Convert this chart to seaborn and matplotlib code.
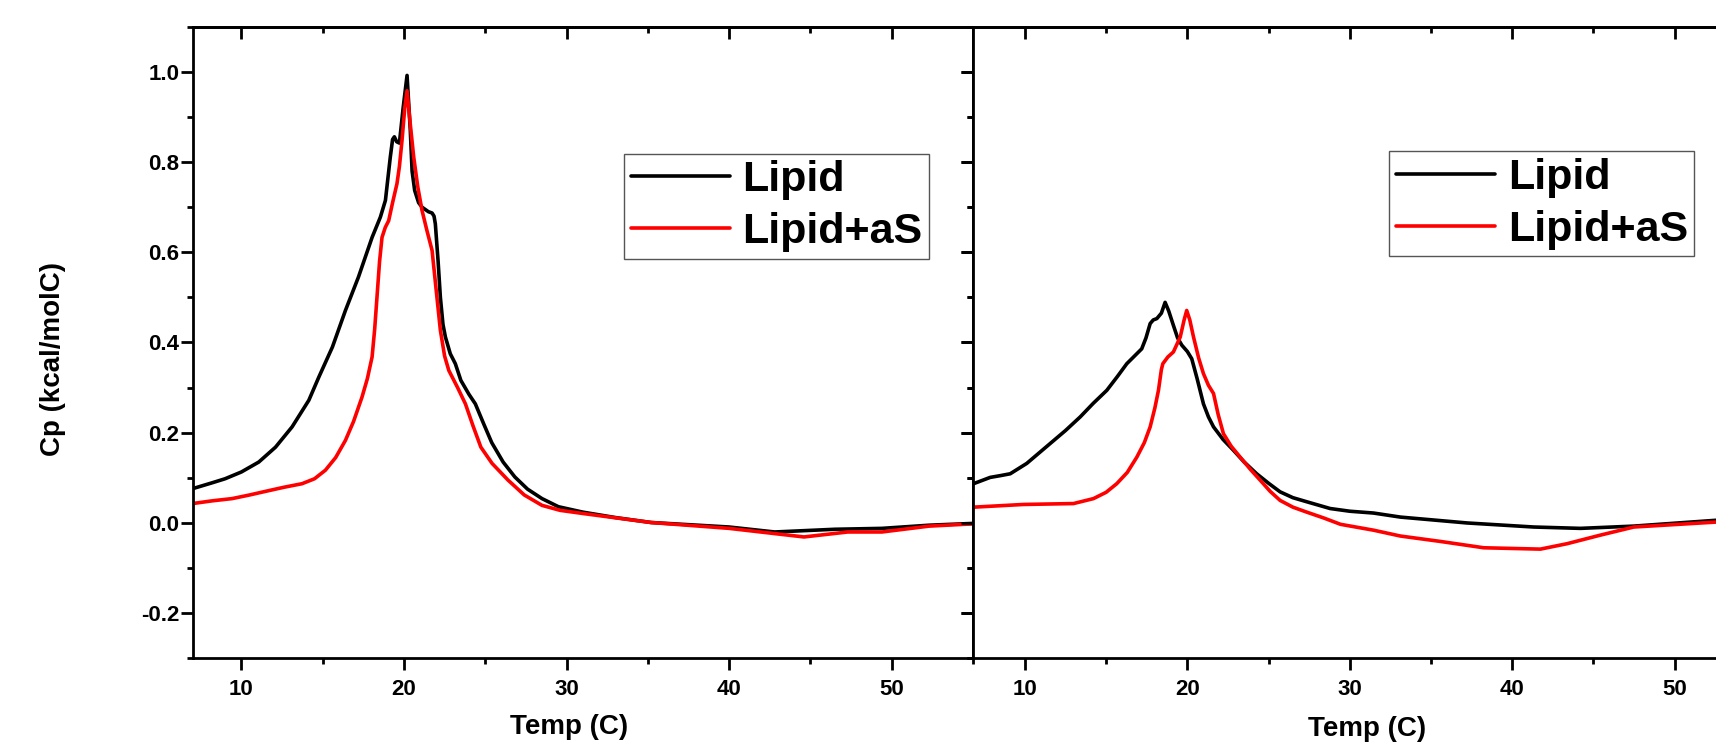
import numpy as np
import pandas as pd
import seaborn as sns
import matplotlib.pyplot as plt
from matplotlib.ticker import MultipleLocator


# Left panel
temp_a_lipid = [7.0, 8.2, 9.0, 10.0, 11.07, 12.1, 13.12, 14.15, 14.76, 15.6, 16.4, 17.2, 18.04, 18.55,
                18.86, 19.0, 19.16, 19.3, 19.41, 19.55, 19.72, 19.95, 20.19, 20.39, 20.5, 20.66, 20.9,
                21.11, 21.5, 21.73, 21.85, 21.93, 22.1, 22.24, 22.4, 22.55, 22.85, 23.16, 23.5, 24.0,
                24.39, 24.9, 25.4, 26.1, 26.82, 27.6, 28.49, 29.5, 31.0, 33.0, 35.2, 40.0, 42.8, 46.5,
                49.4, 52.3, 55.0]
cp_a_lipid = [0.076, 0.089, 0.098, 0.113, 0.135, 0.168, 0.213, 0.272, 0.323, 0.390, 0.471, 0.545, 0.633, 0.678,
              0.715, 0.760, 0.811, 0.850, 0.856, 0.845, 0.842, 0.920, 0.992, 0.870, 0.780, 0.737, 0.710,
              0.700, 0.690, 0.687, 0.680, 0.663, 0.580, 0.500, 0.440, 0.412, 0.375, 0.353, 0.316, 0.285,
              0.264, 0.220, 0.178, 0.135, 0.102, 0.075, 0.054, 0.036, 0.024, 0.012, 0.001, -0.009, -0.020, -0.014,
              -0.012, -0.005, -0.001]

temp_a_las = [7.0, 8.2, 9.43, 10.5, 11.48, 12.6, 13.73, 14.5, 15.17, 15.8, 16.4, 16.9, 17.42, 17.75,
              18.04, 18.2, 18.34, 18.5, 18.65, 18.85, 19.06, 19.3, 19.57, 19.72, 19.88, 20.05, 20.19,
              20.4, 20.6, 20.85, 21.11, 21.4, 21.73, 22.0, 22.24, 22.5, 22.76, 23.3, 23.78, 24.25,
              24.73, 25.42, 26.4, 27.4, 28.49, 29.6, 31.0, 35.2, 40.0, 44.6, 47.3, 49.4, 52.3, 55.0]
cp_a_las = [0.043, 0.049, 0.054, 0.062, 0.070, 0.079, 0.087, 0.098, 0.117, 0.145, 0.183, 0.225, 0.279, 0.320,
            0.368, 0.430, 0.500, 0.580, 0.633, 0.655, 0.670, 0.710, 0.752, 0.790, 0.848, 0.920, 0.958,
            0.880, 0.811, 0.745, 0.693, 0.650, 0.604, 0.510, 0.427, 0.370, 0.338, 0.300, 0.264, 0.215,
            0.168, 0.132, 0.095, 0.062, 0.039, 0.028, 0.021, 0.001, -0.012, -0.031, -0.020, -0.020, -0.007, -0.002]

# Right panel
temp_b_lipid = [6.83, 7.86, 8.5, 9.09, 10.11, 11.55, 12.5, 13.4, 14.2, 15.04, 15.7, 16.27, 16.8, 17.19,
                17.45, 17.71, 17.9, 18.12, 18.4, 18.63, 18.85, 19.14, 19.4, 19.66, 20.0, 20.27, 20.6,
                20.99, 21.3, 21.61, 22.2, 22.84, 23.5, 24.27, 25.0, 25.71, 26.5, 27.35, 28.79, 30.0,
                31.46, 33.12, 37.22, 41.33, 44.2, 47.49, 52.58, 54.8]
cp_b_lipid = [0.087, 0.101, 0.105, 0.109, 0.132, 0.176, 0.205, 0.235, 0.265, 0.294, 0.325, 0.353, 0.372, 0.386,
              0.410, 0.442, 0.450, 0.453, 0.465, 0.489, 0.470, 0.438, 0.410, 0.394, 0.380, 0.364, 0.320,
              0.264, 0.235, 0.213, 0.185, 0.161, 0.135, 0.109, 0.088, 0.069, 0.056, 0.047, 0.032, 0.026,
              0.022, 0.013, 0.000, -0.009, -0.012, -0.007, 0.006, 0.010]

temp_b_las = [6.83, 9.91, 12.99, 14.22, 15.0, 15.65, 16.3, 16.89, 17.35, 17.71, 18.0, 18.22, 18.4, 18.49,
              18.8, 19.14, 19.56, 19.8, 19.96, 20.15, 20.38, 20.7, 20.99, 21.3, 21.61, 21.9, 22.22,
              22.7, 23.25, 23.9, 24.48, 25.1, 25.71, 26.5, 27.35, 28.4, 29.43, 31.46, 33.12, 35.59,
              38.25, 41.74, 43.38, 45.43, 47.49, 52.58, 54.8]
cp_b_las = [0.035, 0.041, 0.043, 0.054, 0.068, 0.087, 0.112, 0.146, 0.178, 0.213, 0.255, 0.294, 0.340, 0.353,
            0.368, 0.379, 0.412, 0.450, 0.471, 0.450, 0.412, 0.365, 0.331, 0.305, 0.287, 0.240, 0.198,
            0.170, 0.146, 0.118, 0.095, 0.070, 0.050, 0.035, 0.024, 0.011, -0.003, -0.016, -0.029, -0.041,
            -0.055, -0.058, -0.046, -0.027, -0.009, 0.002, 0.006]

samples = ['Lipid', 'Lipid+aS']
palette = {'Lipid': 'black', 'Lipid+aS': 'red'}


def make_df(t1, c1, t2, c2):
    return pd.concat([pd.DataFrame({'Temp': t1, 'Cp': c1, 'sample': samples[0]}),
                      pd.DataFrame({'Temp': t2, 'Cp': c2, 'sample': samples[1]})],
                     ignore_index=True)


df_a = make_df(temp_a_lipid, cp_a_lipid, temp_a_las, cp_a_las)
df_b = make_df(temp_b_lipid, cp_b_lipid, temp_b_las, cp_b_las)

sns.set_style('white')
plt.rcParams['font.family'] = ['Liberation Sans', 'DejaVu Sans']
plt.rcParams['font.weight'] = 'bold'
plt.rcParams['axes.unicode_minus'] = False
for key in ['text.color', 'axes.labelcolor', 'xtick.color', 'ytick.color', 'axes.edgecolor']:
    plt.rcParams[key] = 'black'

W, H = 1716, 743
fig = plt.figure(figsize=(W / 100, H / 100), dpi=100)
ax1 = fig.add_axes([192.6 / W, 84.7 / H, 780.4 / W, 631.6 / H])
ax2 = fig.add_axes([973 / W, 84.7 / H, 779.5 / W, 631.6 / H])


def style_axes(ax, xlim):
    ax.set_xlim(*xlim)
    ax.set_ylim(-0.3, 1.1)
    ax.xaxis.set_major_locator(MultipleLocator(10))
    ax.xaxis.set_minor_locator(MultipleLocator(5))
    ax.yaxis.set_major_locator(MultipleLocator(0.2))
    ax.yaxis.set_minor_locator(MultipleLocator(0.1))
    ax.tick_params(which='both', direction='out', width=2, color='black',
                   labelsize=16, bottom=True, left=True)
    ax.tick_params(axis='x', pad=6)
    ax.tick_params(axis='y', pad=1)
    ax.tick_params(which='major', length=8.6)
    ax.tick_params(which='minor', length=4.5)
    for s in ax.spines.values():
        s.set_linewidth(2)
        s.set_color('black')
    # Origin style: ticks point inwards on the top and right sides
    top = ax.secondary_xaxis('top')
    top.xaxis.set_major_locator(MultipleLocator(10))
    top.xaxis.set_minor_locator(MultipleLocator(5))
    top.tick_params(which='both', direction='in', width=2, labeltop=False)
    top.tick_params(which='major', length=8.6)
    top.tick_params(which='minor', length=4.5)
    top.spines['top'].set_linewidth(2)
    right = ax.secondary_yaxis('right')
    right.yaxis.set_major_locator(MultipleLocator(0.2))
    right.yaxis.set_minor_locator(MultipleLocator(0.1))
    right.tick_params(which='both', direction='in', width=2, labelright=False)
    right.tick_params(which='major', length=8.6)
    right.tick_params(which='minor', length=4.5)
    right.spines['right'].set_linewidth(2)
    for lab in ax.get_xticklabels() + ax.get_yticklabels():
        lab.set_fontweight('bold')


for ax, df, xlim, leg_pos, xl_pos in [(ax1, df_a, (7, 55), (0.553, 0.799), (0.482, -0.0877)),
                                      (ax2, df_b, (6.8, 54.8), (0.534, 0.803), (0.505, -0.0918))]:
    sns.lineplot(data=df, x='Temp', y='Cp', hue='sample', palette=palette,
                 estimator=None, linewidth=2.6, ax=ax)
    style_axes(ax, xlim)
    handles, labels = ax.get_legend_handles_labels()
    leg = ax.legend(handles, labels, loc='upper left', bbox_to_anchor=leg_pos,
                    borderaxespad=0, frameon=True, fancybox=False, framealpha=1,
                    edgecolor='#555555', prop={'weight': 'bold', 'size': 31},
                    handlelength=2.3, handletextpad=0.3, borderpad=0.15, labelspacing=0.28)
    leg.get_frame().set_linewidth(1.0)
    ax.set_xlabel('Temp (C)', fontsize=20, fontweight='bold')
    ax.xaxis.set_label_coords(*xl_pos)

ax1.set_ylabel('Cp (kcal/molC)', fontsize=20, fontweight='bold')
ax1.yaxis.set_label_coords(-0.1616, 0.474)
ax2.set_ylabel('')
ax2.tick_params(labelleft=False)

fig.savefig('out.png', dpi=100)
